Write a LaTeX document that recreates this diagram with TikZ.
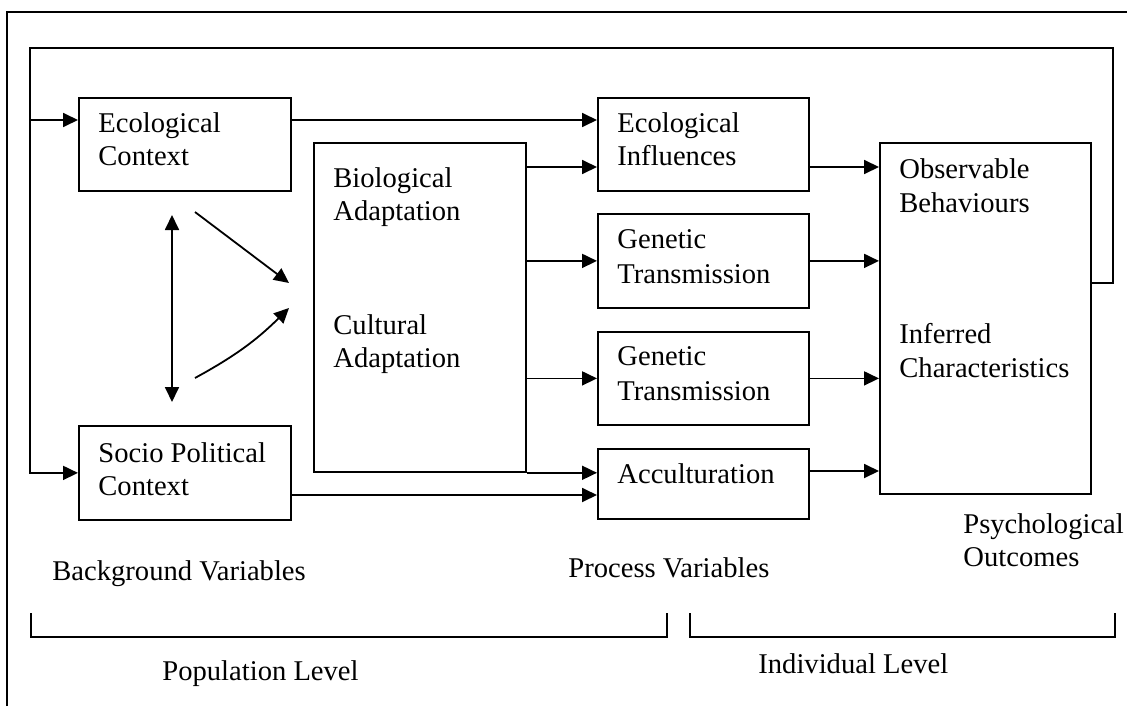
\documentclass[tikz,border=0pt]{standalone}
\usepackage{fontspec}
\setmainfont{Liberation Serif}
\usetikzlibrary{arrows.meta}
\begin{document}
\begin{tikzpicture}[x=0.5pt, y=-0.5pt,
  every node/.style={font=\fontsize{14.3pt}{16.5pt}\selectfont},
  box/.style={draw, line width=0.9pt, rectangle, inner sep=0pt, anchor=north west},
  lbl/.style={anchor=base west, inner sep=0pt},
  conn/.style={line width=0.9pt},
  arr/.style={conn, -{Triangle[length=7.5pt, width=7pt]}},
  dblarr/.style={conn, {Triangle[length=7.5pt, width=7pt]}-{Triangle[length=7.5pt, width=7pt]}}]
\useasboundingbox (0,0) rectangle (1127,706);

% page frame
\draw[conn] (7,706) -- (7,12) -- (1127,12);

% boxes
\node[box, minimum width=106pt,   minimum height=46.5pt]  (ecoctx)  at (78,97)  {};
\node[box, minimum width=106pt,   minimum height=47pt]    (socio)   at (78,425)  {};
\node[box, minimum width=106pt,   minimum height=164.5pt] (central) at (313,142) {};
\node[box, minimum width=105.5pt, minimum height=46.5pt]  (ecoinf)  at (597,97)  {};
\node[box, minimum width=105.5pt, minimum height=47pt]    (gen1)    at (597,213) {};
\node[box, minimum width=105.5pt, minimum height=46.5pt]  (gen2)    at (597,331) {};
\node[box, minimum width=105.5pt, minimum height=35pt]    (accult)  at (597,448) {};
\node[box, minimum width=105.5pt, minimum height=175.5pt] (psych)   at (879,142) {};

% box texts
\node[lbl] (t1)  at (98,132)  {Ecological};
\node[lbl] (t2)  at (98,165)  {Context};
\node[lbl] (t3)  at (98,462)  {Socio Political};
\node[lbl] (t4)  at (98,495)  {Context};
\node[lbl] (t5)  at (333,187) {Biological};
\node[lbl] (t6)  at (333,220) {Adaptation};
\node[lbl] (t7)  at (333,334) {Cultural};
\node[lbl] (t8)  at (333,367) {Adaptation};
\node[lbl] (t9)  at (617,132) {Ecological};
\node[lbl] (t10) at (617,165) {Influences};
\node[lbl] (t11) at (617,248) {Genetic};
\node[lbl] (t12) at (617,283) {Transmission};
\node[lbl] (t13) at (617,365) {Genetic};
\node[lbl] (t14) at (617,400) {Transmission};
\node[lbl] (t15) at (617,483) {Acculturation};
\node[lbl] (t16) at (899,178) {Observable};
\node[lbl] (t17) at (899,212) {Behaviours};
\node[lbl] (t18) at (899,343) {Inferred};
\node[lbl] (t19) at (899,377) {Characteristics};

% captions
\node[lbl] (c1) at (52,580)  {Background Variables};
\node[lbl] (c2) at (568,577) {Process Variables};
\node[lbl] (c3) at (963,533) {Psychological};
\node[lbl] (c4) at (963,566) {Outcomes};
\node[lbl] (c5) at (162,680) {Population Level};
\node[lbl] (c6) at (758,673) {Individual Level};

% connector levels and corners
\coordinate (lvA) at (0,120);
\coordinate (lvB) at (0,167);
\coordinate (lvE) at (0,471);
\coordinate (lvF) at (0,495);
\coordinate (fbR)  at (1113,283);
\coordinate (fbTR) at (1113,48);
\coordinate (fbTL) at (30,48);

% feedback loop
\draw[conn] (psych.east |- fbR) -- (fbR) -- (fbTR) -- (fbTL) -- (fbTL |- lvA);
\draw[arr] (fbTL |- lvA) -- (ecoctx.west |- lvA);
\draw[arr] (fbTL |- lvA) |- (socio.west);

% background to process
\draw[arr] (ecoctx.east |- lvA) -- (ecoinf.west |- lvA);
\draw[arr] (socio.east |- lvF) -- (accult.west |- lvF);

% adaptation to process
\draw[arr] (central.east |- lvB) -- (ecoinf.west |- lvB);
\draw[arr] (central.east |- gen1.west) -- (gen1.west);
\draw[arr] (central.east |- gen2.west) -- (gen2.west);
\draw[arr] (central.south east) -- (accult.west |- central.south east);

% process to outcomes
\draw[arr] (ecoinf.east |- lvB) -- (psych.west |- lvB);
\draw[arr] (gen1.east) -- (psych.west |- gen1.east);
\draw[arr] (gen2.east) -- (psych.west |- gen2.east);
\draw[arr] (accult.east |- lvE) -- (psych.west |- lvE);

% interaction of background variables
\coordinate (dA) at (172,215);
\coordinate (dB) at (172,402);
\coordinate (gA) at (195,212);
\coordinate (gB) at (289,283);
\coordinate (hA) at (195,378);
\coordinate (hB) at (289,308);
\draw[dblarr] (dA) -- (dB);
\draw[arr] (gA) -- (gB);
\draw[arr] (hA) to[bend right=8] (hB);

% level brackets
\coordinate (bL1) at (31,613);
\coordinate (bL2) at (667,637);
\coordinate (bR1) at (690,613);
\coordinate (bR2) at (1115,637);
\draw[conn] (bL1) |- (bL2) -- (bL2 |- bL1);
\draw[conn] (bR1) |- (bR2) -- (bR2 |- bR1);
\end{tikzpicture}
\end{document}
